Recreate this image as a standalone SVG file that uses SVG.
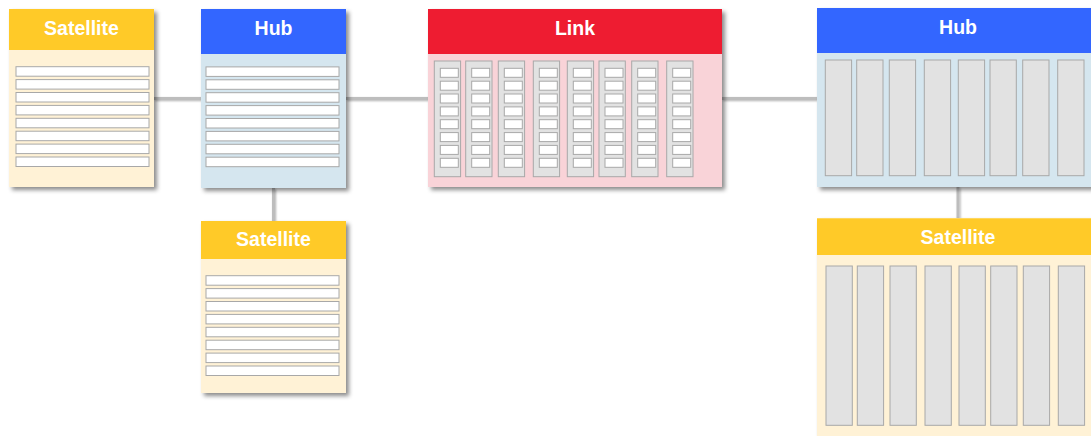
<svg xmlns="http://www.w3.org/2000/svg" width="1091" height="436" viewBox="0 0 1091 436">
<defs>
<filter id="sh" x="-10%" y="-10%" width="130%" height="130%">
<feDropShadow dx="3" dy="3" stdDeviation="2" flood-color="#000" flood-opacity="0.45"/>
</filter>
<filter id="lsh" x="-10%" y="-50%" width="120%" height="300%">
<feDropShadow dx="1" dy="1" stdDeviation="1" flood-color="#000" flood-opacity="0.3"/>
</filter>
<rect id="row" width="133" height="9.5"/>
<rect id="cell" width="18" height="9"/>
</defs>
<style>
.title{font-family:"Liberation Sans",Arial,sans-serif;font-weight:bold;font-size:19.5px;fill:#fff;text-anchor:middle}
.sath{fill:#FFCA28}.satb{fill:#FFF2D6}
.hubh{fill:#3366FF}.hubb{fill:#D5E6EF}
.lnkh{fill:#EE1C31}.lnkb{fill:#F9D3D8}
.row,.cell{fill:#fff;stroke:#A8A8A8;stroke-width:1}
.col{fill:#E2E2E2;stroke:#A8A8A8;stroke-width:1}
.conn{stroke:#BDBDBD;stroke-width:3;fill:none}
</style>

<g id="connectors" filter="url(#lsh)">
<line class="conn" x1="154" y1="98.5" x2="201" y2="98.5"/>
<line class="conn" x1="346" y1="98.5" x2="428" y2="98.5"/>
<line class="conn" x1="722" y1="98.5" x2="817" y2="98.5"/>
<line class="conn" x1="273.5" y1="188" x2="273.5" y2="221"/>
<line class="conn" x1="958" y1="187" x2="958" y2="218"/>
</g>

<g id="satellite1">
<g filter="url(#sh)">
<rect class="satb" x="9" y="9" width="145" height="178"/>
</g>
<rect class="sath" x="9" y="9" width="145" height="41"/>
<text class="title" x="81.5" y="35">Satellite</text>
<g class="row">
<use href="#row" x="16" y="66.7"/><use href="#row" x="16" y="79.6"/><use href="#row" x="16" y="92.5"/><use href="#row" x="16" y="105.4"/>
<use href="#row" x="16" y="118.3"/><use href="#row" x="16" y="131.2"/><use href="#row" x="16" y="144.1"/><use href="#row" x="16" y="157"/>
</g>
</g>

<g id="hub1">
<g filter="url(#sh)">
<rect class="hubb" x="201" y="9" width="145" height="179"/>
</g>
<rect class="hubh" x="201" y="9" width="145" height="45"/>
<text class="title" x="273.5" y="35">Hub</text>
<g class="row">
<use href="#row" x="206" y="66.9"/><use href="#row" x="206" y="79.8"/><use href="#row" x="206" y="92.7"/><use href="#row" x="206" y="105.6"/>
<use href="#row" x="206" y="118.5"/><use href="#row" x="206" y="131.4"/><use href="#row" x="206" y="144.3"/><use href="#row" x="206" y="157.2"/>
</g>
</g>

<g id="satellite2">
<g filter="url(#sh)">
<rect class="satb" x="201" y="221" width="145" height="172"/>
</g>
<rect class="sath" x="201" y="221" width="145" height="38"/>
<text class="title" x="273.5" y="246">Satellite</text>
<g class="row">
<use href="#row" x="206" y="275.7"/><use href="#row" x="206" y="288.6"/><use href="#row" x="206" y="301.5"/><use href="#row" x="206" y="314.4"/>
<use href="#row" x="206" y="327.3"/><use href="#row" x="206" y="340.2"/><use href="#row" x="206" y="353.1"/><use href="#row" x="206" y="366"/>
</g>
</g>

<g id="link">
<g filter="url(#sh)">
<rect class="lnkb" x="428" y="9" width="294" height="178"/>
</g>
<rect class="lnkh" x="428" y="9" width="294" height="45"/>
<text class="title" x="575" y="35">Link</text>
<g id="linkcols">
<rect class="col" x="434.3" y="61" width="26.3" height="115.7"/>
<rect class="col" x="465.7" y="61" width="26.3" height="115.7"/>
<rect class="col" x="498.3" y="61" width="26.3" height="115.7"/>
<rect class="col" x="533.3" y="61" width="26.3" height="115.7"/>
<rect class="col" x="567.3" y="61" width="26.3" height="115.7"/>
<rect class="col" x="599" y="61" width="26.3" height="115.7"/>
<rect class="col" x="631.7" y="61" width="26.3" height="115.7"/>
<rect class="col" x="666.7" y="61" width="26.3" height="115.7"/>
</g>
<g id="linkcells" class="cell">
<g id="cellcol">
<use href="#cell" x="440.3" y="68.3"/><use href="#cell" x="440.3" y="81.2"/><use href="#cell" x="440.3" y="94"/><use href="#cell" x="440.3" y="106.9"/>
<use href="#cell" x="440.3" y="119.7"/><use href="#cell" x="440.3" y="132.6"/><use href="#cell" x="440.3" y="145.4"/><use href="#cell" x="440.3" y="158.3"/>
</g>
<use href="#cellcol" x="31.4"/>
<use href="#cellcol" x="64"/>
<use href="#cellcol" x="99"/>
<use href="#cellcol" x="133"/>
<use href="#cellcol" x="164.7"/>
<use href="#cellcol" x="197.4"/>
<use href="#cellcol" x="232.4"/>
</g>
</g>

<g id="hub2">
<g filter="url(#sh)">
<rect class="hubb" x="817" y="8" width="282" height="179"/>
</g>
<rect class="hubh" x="817" y="8" width="282" height="45"/>
<text class="title" x="958" y="34">Hub</text>
<g id="hubcols">
<rect class="col" x="825.3" y="60" width="26.3" height="115.7"/>
<rect class="col" x="856.7" y="60" width="26.3" height="115.7"/>
<rect class="col" x="889.3" y="60" width="26.3" height="115.7"/>
<rect class="col" x="924.3" y="60" width="26.3" height="115.7"/>
<rect class="col" x="958.3" y="60" width="26.3" height="115.7"/>
<rect class="col" x="990" y="60" width="26.3" height="115.7"/>
<rect class="col" x="1022.7" y="60" width="26.3" height="115.7"/>
<rect class="col" x="1057.7" y="60" width="26.3" height="115.7"/>
</g>
</g>

<g id="satellite3">
<g filter="url(#sh)">
<rect class="satb" x="817" y="218.3" width="282" height="218"/>
</g>
<rect class="sath" x="817" y="218.3" width="282" height="36.7"/>
<text class="title" x="958" y="244">Satellite</text>
<g id="satcols">
<rect class="col" x="826" y="266" width="26.3" height="159.3"/>
<rect class="col" x="857.3" y="266" width="26.3" height="159.3"/>
<rect class="col" x="890" y="266" width="26.3" height="159.3"/>
<rect class="col" x="925" y="266" width="26.3" height="159.3"/>
<rect class="col" x="959" y="266" width="26.3" height="159.3"/>
<rect class="col" x="990.7" y="266" width="26.3" height="159.3"/>
<rect class="col" x="1023.3" y="266" width="26.3" height="159.3"/>
<rect class="col" x="1058.3" y="266" width="26.3" height="159.3"/>
</g>
</g>
</svg>
